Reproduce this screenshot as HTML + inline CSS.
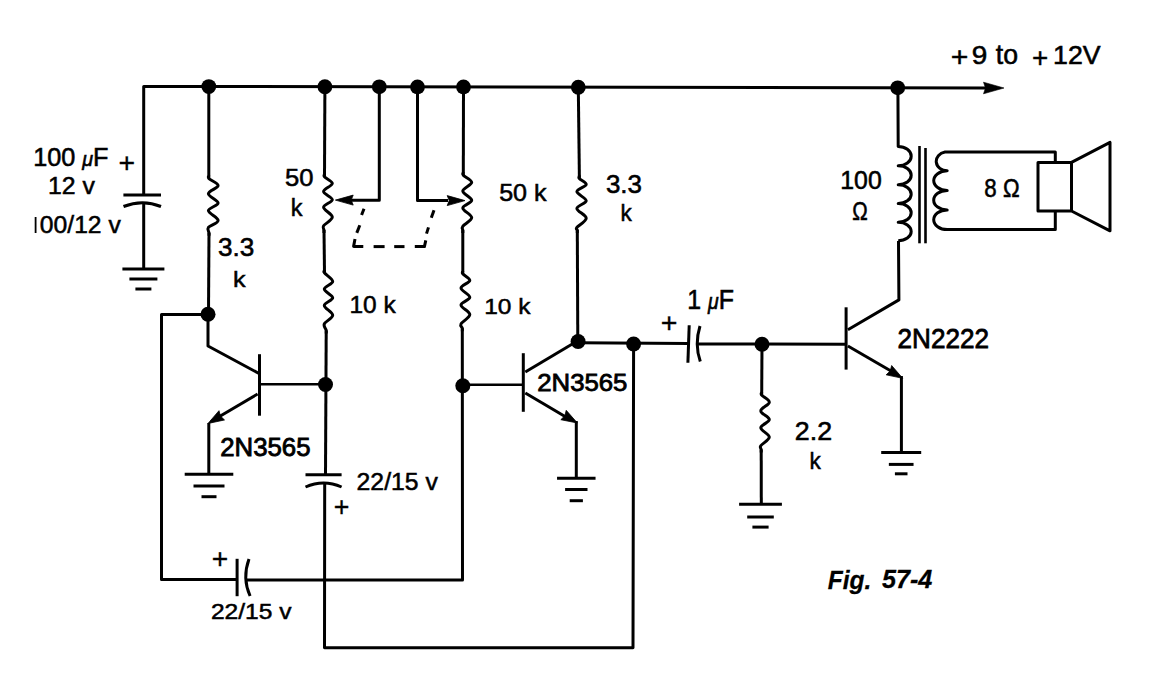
<!DOCTYPE html>
<html><head><meta charset="utf-8"><style>html,body{margin:0;padding:0;background:#fff;overflow:hidden}svg{display:block}</style></head>
<body><svg width="1165" height="691" viewBox="0 0 1165 691">
<rect width="1165" height="691" fill="#fff"/>
<g fill="none" stroke="#000" stroke-linejoin="round" stroke-linecap="butt">
<path d="M143.7 196 L143.7 86.4 L986 88.0" stroke-width="3.0" />
<path d="M1004 88 L983.5 82.2 L985.5 88 L983.5 93.8 Z" fill="#000" stroke="#000" stroke-width="0.6"/>
<circle cx="208.8" cy="86.53" r="7.4" fill="#000" stroke="none"/>
<circle cx="324.9" cy="86.75" r="7.4" fill="#000" stroke="none"/>
<circle cx="379.3" cy="86.85" r="7.4" fill="#000" stroke="none"/>
<circle cx="417.5" cy="86.92" r="7.4" fill="#000" stroke="none"/>
<circle cx="463.5" cy="87.01" r="7.4" fill="#000" stroke="none"/>
<circle cx="578.3" cy="87.23" r="7.4" fill="#000" stroke="none"/>
<circle cx="897.7" cy="87.83" r="7.4" fill="#000" stroke="none"/>
<rect x="34.7" y="217" width="1.8" height="16" fill="#000" stroke="none"/>
<path d="M123.4 195 L161 195" stroke-width="3.0" />
<path d="M123.5 206.5 Q142.5 199 161 206.5" stroke-width="3"/>
<path d="M143.7 203 L143.7 269" stroke-width="3.0" />
<path d="M122.4 269 L164.4 269" stroke-width="3" />
<path d="M129.4 279 L157.4 279" stroke-width="3" />
<path d="M135.4 289 L151.4 289" stroke-width="3" />
<path d="M208.8 87 L208.8 178.6" stroke-width="3.0" />
<path d="M208.8 175.6 C208.80 176.10 207.25 176.93 208.80 178.60 C210.35 180.27 218.17 183.07 218.10 185.60 C218.03 188.13 208.40 190.90 208.40 193.80 C208.40 196.70 218.10 200.20 218.10 203.00 C218.10 205.80 208.40 207.70 208.40 210.60 C208.40 213.50 218.10 217.60 218.10 220.40 C218.10 223.20 209.92 225.33 208.40 227.40 C206.88 229.47 208.90 231.40 209.00 232.80 C209.10 234.20 209.00 235.30 209.00 235.80" stroke-width="3.0"/>
<path d="M209 232.8 L208.5 314" stroke-width="3.0" />
<circle cx="208" cy="314.2" r="7.5" fill="#000" stroke="none"/>
<path d="M208 314.5 L161.5 314.5 L161.5 579.5 L237 579.5" stroke-width="3.0" />
<path d="M208 314 L208 346 L259 373.5" stroke-width="3.0" />
<path d="M259.5 354.2 L259.5 415.7" stroke-width="3.0" />
<path d="M259.5 384.3 L325.5 384.3" stroke-width="2.6" />
<circle cx="325.5" cy="384.5" r="7.5" fill="#000" stroke="none"/>
<path d="M257.6 394 L211 421.5" stroke-width="3" />
<path d="M208.00 423.50 L218.99 410.68 L220.46 416.09 L224.51 419.96 Z" fill="#000" stroke="#000" stroke-width="0.8"/>
<path d="M208.8 423 L208.8 474" stroke-width="3.0" />
<path d="M184.7 474.3 L233.3 474.3" stroke-width="3" />
<path d="M193.5 486.0 L224.5 486.0" stroke-width="3" />
<path d="M201.5 496.7 L216.5 496.7" stroke-width="3" />
<path d="M324.9 87 L324.5 176.9" stroke-width="3.0" />
<path d="M324.5 173.9 C324.50 174.40 323.20 175.30 324.50 176.90 C325.80 178.50 332.45 181.05 332.30 183.50 C332.15 185.95 323.60 188.90 323.60 191.60 C323.60 194.30 332.30 197.08 332.30 199.70 C332.30 202.32 323.60 204.40 323.60 207.30 C323.60 210.20 332.30 214.02 332.30 217.10 C332.30 220.18 324.98 223.63 323.60 225.80 C322.22 227.97 323.93 228.88 324.00 230.10 C324.07 231.32 324.00 232.60 324.00 233.10" stroke-width="3.0"/>
<path d="M324 230.1 L324.5 272.9" stroke-width="3.0" />
<path d="M324.5 269.9 C324.50 270.40 323.13 270.97 324.50 272.90 C325.87 274.83 332.73 278.80 332.70 281.50 C332.67 284.20 324.30 286.38 324.30 289.10 C324.30 291.82 332.70 295.08 332.70 297.80 C332.70 300.52 324.30 302.50 324.30 305.40 C324.30 308.30 332.70 312.12 332.70 315.20 C332.70 318.28 325.38 321.37 324.30 323.90 C323.22 326.43 325.88 328.82 326.20 330.40 C326.52 331.98 326.20 332.90 326.20 333.40" stroke-width="3.0"/>
<path d="M326.2 330.4 L325.5 474.8" stroke-width="3.0" />
<path d="M379.3 87 L379.3 200.3 L350 200.3" stroke-width="3.0" />
<path d="M335.40 200.10 L353.20 195.10 L351.20 200.10 L353.20 205.10 Z" fill="#000" stroke="#000" stroke-width="0.8"/>
<path d="M463.5 87 L463.3 175.3" stroke-width="3.0" />
<path d="M463.3 172.3 C463.30 172.80 461.90 173.62 463.30 175.30 C464.70 176.98 471.78 179.78 471.70 182.40 C471.62 185.02 462.80 188.02 462.80 191.00 C462.80 193.98 471.70 197.48 471.70 200.30 C471.70 203.12 462.80 205.02 462.80 207.90 C462.80 210.78 471.70 214.53 471.70 217.60 C471.70 220.67 464.28 224.22 462.80 226.30 C461.32 228.38 462.80 228.97 462.80 230.10 C462.80 231.23 462.80 232.60 462.80 233.10" stroke-width="3.0"/>
<path d="M462.8 230.1 L462.8 273.9" stroke-width="3.0" />
<path d="M462.8 270.9 C462.80 271.40 461.63 272.30 462.80 273.90 C463.97 275.50 470.10 278.15 469.80 280.50 C469.50 282.85 461.00 285.20 461.00 288.00 C461.00 290.80 469.80 294.48 469.80 297.30 C469.80 300.12 461.00 302.02 461.00 304.90 C461.00 307.78 469.80 311.43 469.80 314.60 C469.80 317.77 462.25 321.63 461.00 323.90 C459.75 326.17 462.08 326.98 462.30 328.20 C462.52 329.42 462.30 330.70 462.30 331.20" stroke-width="3.0"/>
<path d="M462.3 328.2 L462.5 580.1 L245 580.1" stroke-width="3.0" />
<path d="M417.5 87 L417.5 200.5 L448 200.5" stroke-width="3.0" />
<path d="M465.00 200.60 L447.20 205.60 L449.20 200.60 L447.20 195.60 Z" fill="#000" stroke="#000" stroke-width="0.8"/>
<circle cx="462.8" cy="385.7" r="7.5" fill="#000" stroke="none"/>
<path d="M364 208.8 L361.6 215" stroke-width="3" />
<path d="M359.8 225.3 L356.8 232.9" stroke-width="3" />
<path d="M355 239 L353.6 246.4 L363.3 246.6" stroke-width="3" />
<path d="M373.6 246.6 L384.6 246.6" stroke-width="3" />
<path d="M394.2 246.6 L404.5 246.6" stroke-width="3" />
<path d="M414.8 246.6 L424.4 246.6 L425.8 240.4" stroke-width="3" />
<path d="M428.5 227.4 L426.5 233.6" stroke-width="3" />
<path d="M434 210.2 L431.3 217.8" stroke-width="3" />
<path d="M305.5 474.8 L341.6 474.8" stroke-width="3.0" />
<path d="M305.5 487 Q323.5 479 341.6 487" stroke-width="3"/>
<path d="M324.7 482 L324.5 647.8 L633 647.8 L633.6 344" stroke-width="3.0" />
<path d="M237.1 558.8 L237.1 596.2" stroke-width="3.0" />
<path d="M249 559 Q242 578 250.1 596" stroke-width="3"/>
<path d="M578.3 87 L579.4 178.6" stroke-width="3.0" />
<path d="M579.4 175.6 C579.40 176.10 578.27 177.12 579.40 178.60 C580.53 180.08 586.62 182.33 586.20 184.50 C585.78 186.67 576.90 188.88 576.90 191.60 C576.90 194.32 586.20 198.00 586.20 200.80 C586.20 203.60 576.90 205.50 576.90 208.40 C576.90 211.30 586.20 215.03 586.20 218.20 C586.20 221.37 578.38 225.42 576.90 227.40 C575.42 229.38 577.23 229.15 577.30 230.10 C577.37 231.05 577.30 232.60 577.30 233.10" stroke-width="3.0"/>
<path d="M577.3 230.1 L577.8 342" stroke-width="3.0" />
<circle cx="578.1" cy="341.5" r="7.5" fill="#000" stroke="none"/>
<path d="M462.8 384.7 L523.3 384.7" stroke-width="2.6" />
<path d="M523.3 353.2 L523.3 411.8" stroke-width="3.0" />
<path d="M525.3 372 L574 343" stroke-width="3.0" />
<path d="M525.3 393 L571 420" stroke-width="3" />
<path d="M577.40 423.00 L560.84 419.70 L564.83 415.76 L566.23 410.34 Z" fill="#000" stroke="#000" stroke-width="0.8"/>
<path d="M576.3 421 L576.3 478.3" stroke-width="3.0" />
<path d="M557.05 478.3 L595.55 478.3" stroke-width="3" />
<path d="M565.0999999999999 489.5 L587.5 489.5" stroke-width="3" />
<path d="M569.6999999999999 500.7 L582.9 500.7" stroke-width="3" />
<path d="M578 342.7 L688.4 343.5" stroke-width="3.0" />
<circle cx="633.6" cy="344" r="7.5" fill="#000" stroke="none"/>
<path d="M689.2 325.2 L687.9 362.7" stroke-width="3.0" />
<path d="M700 326 Q694.3 344.3 700.3 361.5" stroke-width="3"/>
<path d="M697 344 L846 344.2" stroke-width="3.0" />
<circle cx="762" cy="344.2" r="7.5" fill="#000" stroke="none"/>
<path d="M762 344 L761.7 395.2" stroke-width="3.0" />
<path d="M761.7 392.2 C761.70 392.70 760.43 393.52 761.70 395.20 C762.97 396.88 769.45 399.68 769.30 402.30 C769.15 404.92 760.80 408.02 760.80 410.90 C760.80 413.78 769.30 416.78 769.30 419.60 C769.30 422.42 760.80 424.90 760.80 427.80 C760.80 430.70 769.30 434.02 769.30 437.00 C769.30 439.98 762.15 443.62 760.80 445.70 C759.45 447.78 761.13 448.37 761.20 449.50 C761.27 450.63 761.20 452.00 761.20 452.50" stroke-width="3.0"/>
<path d="M761.2 449.5 L761.3 504.2" stroke-width="3.0" />
<path d="M739.1 504.2 L781.9 504.2" stroke-width="3" />
<path d="M747.2 517.0 L773.8 517.0" stroke-width="3" />
<path d="M752.4 527.1 L768.6 527.1" stroke-width="3" />
<path d="M846.1 307.3 L846.1 369.6" stroke-width="3.0" />
<path d="M847.9 329.7 L898.9 299.9 L898.5 241" stroke-width="3.0" />
<path d="M847.9 346 L897 374.5" stroke-width="3" />
<path d="M902.70 378.30 L886.17 374.83 L890.21 370.94 L891.66 365.52 Z" fill="#000" stroke="#000" stroke-width="0.8"/>
<path d="M901.4 376 L901.4 452.6" stroke-width="3.0" />
<path d="M881.2 452.6 L921.2 452.6" stroke-width="3" />
<path d="M888.85 464.40000000000003 L913.5500000000001 464.40000000000003" stroke-width="3" />
<path d="M894.9000000000001 473.8 L907.5 473.8" stroke-width="3" />
<path d="M897.9 87 L898.2 146.5 A13 9.65 0 0 1 898.2 165.8 A13 9.50 0 0 1 898.2 184.8 A13 9.35 0 0 1 898.2 203.5 A13 9.35 0 0 1 898.2 222.2 A13 9.30 0 0 1 898.2 240.8" stroke-width="3"/>
<path d="M919.5 146 L919.5 243.3" stroke-width="2.6" />
<path d="M925.5 148 L925.5 243.3" stroke-width="2.6" />
<path d="M1055.3 162.4 L1055.3 152 L945 152 A 11 9.5 0 0 0 947.2 170.8 A 13.5 9.80 0 0 0 947.2 190.4 A 13.5 9.75 0 0 0 947.2 209.9 A 13.5 9.85 0 0 0 947.2 229.6 A 11 9.8 0 0 0 945 229.6 L1055.3 229.6 L1055.3 211" stroke-width="3"/>
<path d="M1038 162.4 H1071.5 V211 H1038 Z M1071.5 162.4 L1110 142.4 L1110 230.8 L1071.5 211" stroke-width="3"/>
</g>
<g fill="#000" font-family="Liberation Sans">
<text transform="matrix(0.25260 0 0 0.26092 33.132 165.725)" font-size="100" stroke="#000" stroke-width="2.2" style="font-kerning:none">100 <tspan font-family="Liberation Sans" font-style="italic" font-size="78">&#956;</tspan>F</text>
<text transform="matrix(0.28400 0 0 0.27400 118.564 172.366)" font-size="100" stroke="#000" stroke-width="1.2" style="font-kerning:none">+</text>
<text transform="matrix(0.24809 0 0 0.23611 48.063 193.664)" font-size="100" stroke="#000" stroke-width="2.2" style="font-kerning:none">12 v</text>
<text transform="matrix(0.24663 0 0 0.23816 39.860 233.324)" font-size="100" stroke="#000" stroke-width="2.2" style="font-kerning:none">00/12 v</text>
<text transform="matrix(0.26165 0 0 0.25753 217.915 256.285)" font-size="100" stroke="#000" stroke-width="2.2" style="font-kerning:none">3.3</text>
<text transform="matrix(0.25217 0 0 0.22533 233.087 286.675)" font-size="100" stroke="#000" stroke-width="2.2" style="font-kerning:none">k</text>
<text transform="matrix(0.25619 0 0 0.24795 285.031 185.504)" font-size="100" stroke="#000" stroke-width="2.2" style="font-kerning:none">50</text>
<text transform="matrix(0.23478 0 0 0.24533 290.691 215.855)" font-size="100" stroke="#000" stroke-width="2.2" style="font-kerning:none">k</text>
<text transform="matrix(0.25106 0 0 0.23947 499.147 200.521)" font-size="100" stroke="#000" stroke-width="2.2" style="font-kerning:none">50 k</text>
<text transform="matrix(0.24511 0 0 0.24079 349.384 312.618)" font-size="100" stroke="#000" stroke-width="2.2" style="font-kerning:none">10 k</text>
<text transform="matrix(0.24511 0 0 0.22368 484.184 313.553)" font-size="100" stroke="#000" stroke-width="2.2" style="font-kerning:none">10 k</text>
<text transform="matrix(0.25940 0 0 0.26438 605.922 193.371)" font-size="100" stroke="#000" stroke-width="2.2" style="font-kerning:none">3.3</text>
<text transform="matrix(0.22609 0 0 0.23600 620.543 221.464)" font-size="100" stroke="#000" stroke-width="2.2" style="font-kerning:none">k</text>
<text transform="matrix(0.25768 0 0 0.25333 220.227 455.740)" font-size="100" stroke="#000" stroke-width="3.4" style="font-kerning:none">2N3565</text>
<text transform="matrix(0.25768 0 0 0.24533 537.227 391.264)" font-size="100" stroke="#000" stroke-width="3.4" style="font-kerning:none">2N3565</text>
<text transform="matrix(0.24769 0 0 0.24079 356.609 489.718)" font-size="100" stroke="#000" stroke-width="2.2" style="font-kerning:none">22/15 v</text>
<text transform="matrix(0.26800 0 0 0.27800 333.828 516.402)" font-size="100" stroke="#000" stroke-width="1.2" style="font-kerning:none">+</text>
<text transform="matrix(0.28200 0 0 0.27800 211.772 568.302)" font-size="100" stroke="#000" stroke-width="1.2" style="font-kerning:none">+</text>
<text transform="matrix(0.24585 0 0 0.22895 210.917 618.642)" font-size="100" stroke="#000" stroke-width="2.2" style="font-kerning:none">22/15 v</text>
<text transform="matrix(0.28600 0 0 0.27800 660.756 332.402)" font-size="100" stroke="#000" stroke-width="1.2" style="font-kerning:none">+</text>
<text transform="matrix(0.24915 0 0 0.27558 687.256 309.391)" font-size="100" stroke="#000" stroke-width="2.2" style="font-kerning:none">1 <tspan font-family="Liberation Sans" font-style="italic" font-size="78">&#956;</tspan>F</text>
<text transform="matrix(0.26794 0 0 0.25556 794.828 439.944)" font-size="100" stroke="#000" stroke-width="2.2" style="font-kerning:none">2.2</text>
<text transform="matrix(0.22609 0 0 0.24267 809.543 468.557)" font-size="100" stroke="#000" stroke-width="2.2" style="font-kerning:none">k</text>
<text transform="matrix(0.26122 0 0 0.28056 897.555 347.819)" font-size="100" stroke="#000" stroke-width="2.8" style="font-kerning:none">2N2222</text>
<text transform="matrix(0.24841 0 0 0.25616 840.261 189.288)" font-size="100" stroke="#000" stroke-width="2.2" style="font-kerning:none">100</text>
<text transform="matrix(0.20725 0 0 0.25417 852.178 219.946)" font-size="100" stroke="#000" stroke-width="2.2" style="font-kerning:none">&#937;</text>
<text transform="matrix(0.22303 0 0 0.25890 984.331 197.282)" font-size="100" stroke="#000" stroke-width="2.2" style="font-kerning:none">8 &#937;</text>
<text transform="matrix(0.30200 0 0 0.27647 950.692 66.312)" font-size="100" stroke="#000" stroke-width="1.5" style="font-kerning:none">+</text>
<text transform="matrix(0.27917 0 0 0.25890 971.683 64.282)" font-size="100" stroke="#000" stroke-width="2.2" style="font-kerning:none">9</text>
<text transform="matrix(0.26625 0 0 0.26716 995.800 64.266)" font-size="100" stroke="#000" stroke-width="2.2" style="font-kerning:none">to</text>
<text transform="matrix(0.27800 0 0 0.27255 1031.888 67.180)" font-size="100" stroke="#000" stroke-width="1.5" style="font-kerning:none">+</text>
<text transform="matrix(0.26744 0 0 0.25278 1053.028 63.647)" font-size="100" stroke="#000" stroke-width="2.2" style="font-kerning:none">12V</text>
<text transform="matrix(0.24497 0 0 0.25106 827.755 588.528)" font-size="100" stroke="#000" stroke-width="1.0" style="font-kerning:none"><tspan font-weight="bold" font-style="italic">Fig.</tspan></text>
<text transform="matrix(0.25202 0 0 0.25634 881.948 588.144)" font-size="100" stroke="#000" stroke-width="1.0" style="font-kerning:none"><tspan font-weight="bold" font-style="italic">57-4</tspan></text>
</g>
</svg></body></html>
